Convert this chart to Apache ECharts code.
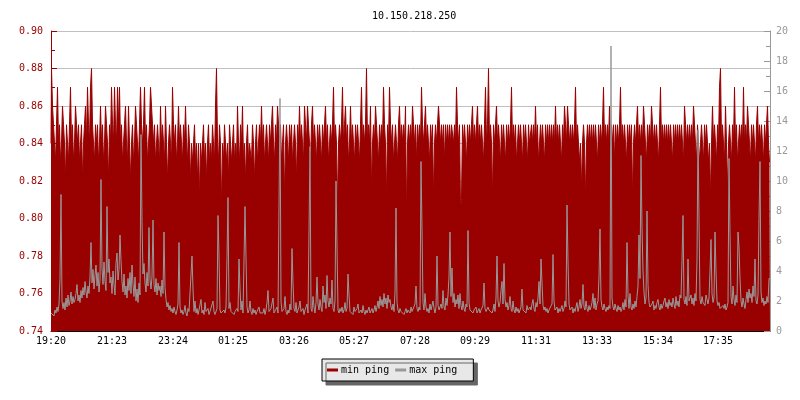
<!DOCTYPE html>
<html><head><meta charset="utf-8">
<script src="https://cdn.jsdelivr.net/npm/echarts@6/dist/echarts.min.js"></script>
<style>html,body{margin:0;padding:0;background:#fff}#c{width:800px;height:400px}</style>
</head><body><div id="c"></div>
<script>
const titleText = '10.150.218.250';
const startTime = '19:20';
const stepMinutes = 2;
const tickLabels = ['19:20','21:23','23:24','01:25','03:26','05:27','07:28','09:29','11:31','13:33','15:34','17:35'];
const seriesNames = ['min ping', 'max ping'];

// min ping, in hundredths of a millisecond (84 = 0.84 ms)
const minPingHundredths = [
84,88,86,85,84,83,85,87,84,85,
83,84,86,85,84,82,85,84,83,85,
87,84,85,83,84,86,85,84,85,83,
84,85,82,84,85,86,84,87,85,84,
87,88,85,84,83,85,84,85,83,84,
86,84,85,83,84,86,85,84,82,85,
84,87,85,84,87,85,84,87,85,87,
84,85,83,84,85,86,84,83,86,84,
82,84,85,83,84,86,85,84,83,85,
87,85,84,85,87,84,85,83,84,85,
87,87,85,84,85,83,84,85,84,83,
86,84,85,84,83,86,84,82,84,85,
84,83,87,85,84,85,83,84,86,84,
85,84,83,85,84,86,84,83,85,84,
82,84,83,84,85,83,84,82,84,81,
84,83,84,85,83,84,82,84,85,83,
84,83,85,84,83,86,88,84,83,85,
84,80.5,84,83,85,84,83,84,82,85,
84,83,84,85,83,84,83,86,84,83,
85,84,86,83,84,82,84,85,83,84,
84,83,85,84,82,84,85,83,84,85,
84,86,84,85,83,84,85,84,83,85,
84,85,86,84,83,85,84,86,85,84,
85,83,84,85,81,84,85,84,83,85,
84,85,83,84,85,84,82,85,84,86,
84,85,84,83,86,85,84,86,85,84,
83,85,86,84,85,84,83,85,84,85,
84,83,85,84,85,86,84,85,83,84,
85,84,85,87,84,85,84,80.5,84,85,
84,85,87,84,85,86,84,85,83,84,
86,84,85,84,83,85,84,85,84,83,
85,87,84,85,84,85,88,84,85,84,
86,81.5,84,85,84,86,85,84,83,85,
84,85,84,87,85,84,81,85,84,87,
85,84,85,83,84,85,84,83,85,86,
84,85,84,85,84,86,80,84,85,84,
85,84,86,85,84,85,83,85,84,85,
84,87,85,84,85,86,84,85,84,83,
85,84,85,81,84,85,84,85,86,85,
84,85,84,85,83,85,84,85,84,85,
84,85,85,84,85,84,87,85,84,85,
80.5,81,85,84,85,84,83,85,84,85,
84,85,86,84,85,84,85,86,84,85,
84,85,84,83,85,87,84,85,88,84,
85,84,81,85,84,85,86,84,85,84,
83,85,84,85,84,83,85,84,85,84,
85,87,84,85,84,85,83,84,85,84,
85,84,83,85,84,85,84,83,85,84,
84,85,84,85,84,86,84,85,83,84,
85,84,85,84,83,85,84,85,84,85,
84,85,84,85,84,86,84,85,84,85,
84,83,85,84,86,85,84,86,85,84,
85,84,85,84,85,87,84,85,84,83,
84,81.5,84,85,84,81,84,85,84,85,
84,85,84,85,84,85,84,83,85,84,
85,84,85,87,84,85,84,85,84,86,
84,85,84,85,83,85,84,85,84,85,
87,84,85,84,85,84,83,85,84,85,
84,85,81,84,85,84,85,86,84,85,
84,85,84,86,85,84,83,85,84,85,
84,86,85,84,85,84,85,84,83,85,
87,84,85,84,85,84,85,84,85,84,
85,84,83,85,84,85,84,85,84,85,
84,85,84,83,86,85,84,85,84,85,
84,85,84,86,85,84,83,85,84,83,
84,85,84,83,85,84,85,84,83,84,
81,84,86,84,85,84,83,85,84,87,
88,84,85,84,83,86,84,81.5,84,85,
84,83,85,84,87,84,85,83,84,85,
84,85,84,87,84,85,84,86,85,84,
83,85,84,85,84,83,85,86,84,85,
84,85,84,83,85,84,85,86,84,83
];

// max ping, ms (right axis)
const maxPing = [
1.2,1.1,1.3,1.0,1.4,1.2,1.6,1.3,1.8,3.5,
9.1,2.0,1.5,1.9,1.4,2.2,1.6,2.4,1.7,2.0,
2.6,1.8,2.3,1.9,2.1,2.5,3.1,2.0,2.4,1.9,
2.7,2.2,2.9,2.4,3.3,2.6,2.2,3.0,2.5,3.6,
5.9,3.2,4.1,2.8,3.7,4.4,3.0,3.9,2.6,3.4,
10.1,4.2,3.1,4.6,3.3,2.7,8.3,3.9,4.8,3.2,
3.6,2.5,4.0,3.1,2.4,4.5,5.2,3.4,4.1,6.4,
4.7,3.3,2.6,3.8,2.4,3.0,2.2,3.5,2.7,3.9,
2.5,4.4,3.1,2.3,3.6,2.0,2.8,1.9,3.2,2.4,
13.1,7.3,3.8,4.5,3.2,2.6,3.9,3.0,6.9,3.4,
2.8,3.6,7.4,3.1,2.6,3.5,2.4,3.2,2.7,3.0,
2.3,3.4,2.5,6.6,2.9,2.1,1.6,1.9,1.4,1.7,
1.3,1.5,1.2,1.6,1.3,1.1,1.4,1.8,5.9,1.6,
1.2,1.4,1.1,1.3,1.7,1.2,1.0,1.5,1.3,1.2,
1.4,5.0,2.8,1.3,2.0,1.2,1.5,1.1,1.4,1.3,
2.1,1.2,1.4,1.1,1.9,1.3,1.2,1.5,1.1,1.3,
1.2,1.4,2.0,1.3,1.1,1.2,1.5,7.7,5.0,1.4,
1.2,1.3,1.1,1.4,1.2,1.6,4.9,8.9,1.5,1.9,
1.3,1.2,1.4,1.1,1.3,1.2,1.5,1.3,4.8,2.8,
1.4,2.0,1.2,1.3,8.3,4.9,1.6,1.2,1.4,2.0,
1.3,1.1,1.5,1.2,1.4,1.1,1.3,1.2,1.6,1.2,
1.1,1.3,1.2,1.5,1.1,1.4,1.9,2.7,1.3,1.2,
1.5,1.4,2.2,1.2,1.3,1.1,1.6,1.2,1.3,15.5,
2.0,1.3,1.2,1.5,2.3,1.3,1.1,1.4,1.2,1.8,
1.4,5.5,3.2,1.5,1.3,1.9,1.2,1.4,1.6,2.0,
1.3,1.2,1.5,1.1,1.4,1.3,1.8,1.2,6.6,12.3,
1.5,1.3,2.3,1.6,1.2,1.9,3.6,1.8,1.4,2.1,
1.6,1.3,3.0,1.9,2.4,1.5,3.7,2.0,1.6,2.2,
1.8,3.4,1.5,1.3,2.0,10.0,5.6,1.4,1.2,1.5,
1.3,1.6,1.2,1.4,1.9,1.3,1.5,3.8,2.4,1.3,
1.2,1.4,1.1,1.6,1.3,1.2,1.5,1.8,1.2,1.3,
1.4,1.2,1.7,1.3,1.1,1.4,1.2,1.3,1.6,1.2,
1.3,1.5,1.2,1.4,1.7,1.3,1.6,2.0,1.5,2.3,
1.7,2.1,1.6,2.5,1.8,2.2,1.5,2.4,1.9,2.1,
1.6,1.4,1.8,1.3,2.6,8.2,1.9,1.4,1.2,1.5,
1.3,1.2,1.4,1.1,1.3,1.5,1.2,1.4,1.3,1.2,
1.6,1.3,1.2,1.4,1.8,3.0,1.5,1.3,1.6,1.4,
11.3,6.8,1.9,1.4,2.5,1.6,1.3,1.5,1.2,1.8,
1.4,1.3,2.0,1.5,1.2,1.6,5.0,1.7,1.4,1.3,
1.8,1.5,2.7,1.6,1.4,2.2,1.7,2.4,3.6,6.6,
2.3,4.2,1.9,2.5,1.6,2.1,1.8,2.4,1.5,2.5,
1.7,1.4,2.0,1.5,1.3,1.8,1.6,6.7,1.9,1.4,
1.3,1.5,1.2,1.4,1.3,1.6,1.2,1.3,1.5,1.2,
1.4,1.3,1.7,3.2,1.5,1.3,1.2,1.6,1.4,1.3,
1.5,1.2,1.4,1.8,1.3,2.2,5.0,2.0,1.6,1.9,
2.7,3.3,1.8,4.5,2.1,1.6,1.9,1.4,1.7,2.3,
1.5,1.3,2.0,1.4,1.2,1.6,1.3,1.5,1.2,1.4,
1.6,2.8,1.4,1.3,1.5,1.2,1.7,1.4,1.3,1.6,
1.4,1.8,2.1,1.5,1.3,1.9,1.6,2.2,3.3,1.8,
4.8,3.2,1.7,1.4,1.6,1.3,1.5,1.2,1.4,1.3,
1.5,1.8,5.1,2.0,1.4,1.3,1.6,1.2,1.5,1.3,
1.4,1.7,1.3,1.5,2.0,1.6,8.4,4.6,1.8,1.4,
1.3,1.6,1.2,1.5,1.3,1.4,1.9,1.3,1.6,2.1,
1.5,1.8,3.1,1.6,1.4,2.0,1.5,1.3,1.7,1.4,
1.6,1.9,2.5,1.5,2.2,1.4,1.8,2.0,3.6,6.8,
2.1,1.6,1.4,1.8,1.5,1.3,1.6,1.4,1.7,1.5,
19.0,2.2,1.6,1.4,1.8,1.5,1.3,1.7,1.4,1.6,
1.3,1.5,1.9,1.4,2.1,1.6,5.9,2.4,1.5,2.5,
1.6,1.4,1.8,1.5,2.0,1.6,2.3,3.0,6.4,3.5,
11.7,6.9,4.0,2.6,1.8,2.2,8.0,3.1,1.9,1.6,
1.5,1.8,2.0,1.4,1.7,1.5,1.9,2.1,1.6,1.4,
1.8,1.5,1.7,2.0,2.2,1.6,1.9,1.5,2.1,1.7,
1.9,1.6,2.2,1.8,1.5,2.3,1.7,2.0,1.6,2.4,
2.2,4.7,7.7,2.1,1.8,2.3,1.7,4.8,2.0,1.9,
2.4,1.8,2.2,1.7,2.5,2.0,4.8,13.4,7.4,2.1,
1.8,2.3,1.9,2.0,1.7,2.4,2.1,1.8,2.2,4.0,
6.1,2.5,1.9,2.2,6.6,4.0,2.0,1.7,1.9,1.5,
1.6,1.4,1.7,1.5,1.8,1.4,1.6,1.9,11.5,6.5,
2.3,1.8,3.0,2.1,1.7,2.4,1.9,6.6,5.6,3.5,
2.0,1.6,2.2,1.8,1.5,2.1,2.6,1.9,2.8,2.2,
2.5,1.9,3.0,2.3,4.8,2.0,1.8,2.4,7.5,11.3,
2.6,1.9,2.2,1.7,2.0,1.8,2.3,1.9,3.5,3.5
];

const minPing = minPingHundredths.map(v => v / 100);

function toMin(s) { const p = s.split(':'); return (+p[0]) * 60 + (+p[1]); }
const startMin = toMin(startTime);
const categories = minPing.map((_, i) => {
  const t = (startMin + i * stepMinutes) % 1440;
  return String(Math.floor(t / 60)).padStart(2, '0') + ':' + String(t % 60).padStart(2, '0');
});
const labelAt = {};
tickLabels.forEach(l => {
  const diff = (toMin(l) - startMin + 1440) % 1440;
  labelAt[Math.floor(diff / stepMinutes)] = l;
});
const isLabel = (idx) => labelAt[idx] !== undefined;

const FONT = '"DejaVu Sans Mono", "Liberation Mono", monospace';
const RED = '#990000';
const GREY = '#999999';

const chart = echarts.init(document.getElementById('c'), null, { renderer: 'canvas' });
chart.setOption({
  animation: false,
  backgroundColor: '#ffffff',
  title: {
    text: titleText,
    left: 367, top: 6,
    textStyle: { fontFamily: FONT, fontSize: 10, fontWeight: 'normal', color: '#000' }
  },
  legend: {
    data: seriesNames,
    left: 322, top: 359,
    orient: 'horizontal',
    icon: 'rect',
    itemWidth: 11, itemHeight: 3, itemGap: 6,
    padding: [6, 16, 6, 5],
    backgroundColor: '#e8e8e8',
    borderColor: '#000', borderWidth: 1,
    shadowColor: '#666666', shadowBlur: 0, shadowOffsetX: 4, shadowOffsetY: 4,
    textStyle: { fontFamily: FONT, fontSize: 10, color: '#000', padding: [0, 0, 0, -2] }
  },
  grid: { left: 51, right: 30, top: 31, bottom: 69, containLabel: false },
  xAxis: {
    type: 'category',
    data: categories,
    boundaryGap: false,
    axisLine: { show: true, lineStyle: { color: '#000', width: 1 } },
    axisTick: { show: true, inside: true, length: 5, interval: (i) => isLabel(i), lineStyle: { color: '#000' } },
    axisLabel: {
      interval: (i) => isLabel(i),
      formatter: (v, i) => labelAt[i] || '',
      fontFamily: FONT, fontSize: 10, color: '#000', margin: 5
    },
    splitLine: { show: false }
  },
  yAxis: [
    {
      type: 'value', position: 'left',
      min: 0.74, max: 0.90, interval: 0.02,
      axisLine: { show: true, lineStyle: { color: RED, width: 1 } },
      axisTick: { show: true, inside: true, length: 6, lineStyle: { color: RED } },
      minorTick: { show: true, splitNumber: 2, length: 4, lineStyle: { color: RED } },
      axisLabel: { formatter: (v) => v.toFixed(2), fontFamily: FONT, fontSize: 10, color: RED, margin: 8 },
      splitLine: { show: true, lineStyle: { color: '#c0c0c0', width: 1 } }
    },
    {
      type: 'value', position: 'right',
      min: 0, max: 20, interval: 2,
      axisLine: { show: true, lineStyle: { color: GREY, width: 1 } },
      axisTick: { show: true, inside: true, length: 6, lineStyle: { color: GREY } },
      minorTick: { show: true, splitNumber: 2, length: 4, lineStyle: { color: GREY } },
      axisLabel: { fontFamily: FONT, fontSize: 10, color: GREY, margin: 6 },
      splitLine: { show: false }
    }
  ],
  series: [
    {
      name: seriesNames[0], type: 'line', yAxisIndex: 0,
      data: minPing, step: 'middle', showSymbol: false, symbol: 'none',
      color: RED,
      lineStyle: { color: RED, width: 1 },
      areaStyle: { color: RED, opacity: 1, origin: 'start' },
      z: 2
    },
    {
      name: seriesNames[1], type: 'line', yAxisIndex: 1,
      data: maxPing, showSymbol: false, symbol: 'none',
      color: GREY,
      lineStyle: { color: GREY, width: 1 },
      z: 3
    }
  ]
});
</script>
</body></html>
